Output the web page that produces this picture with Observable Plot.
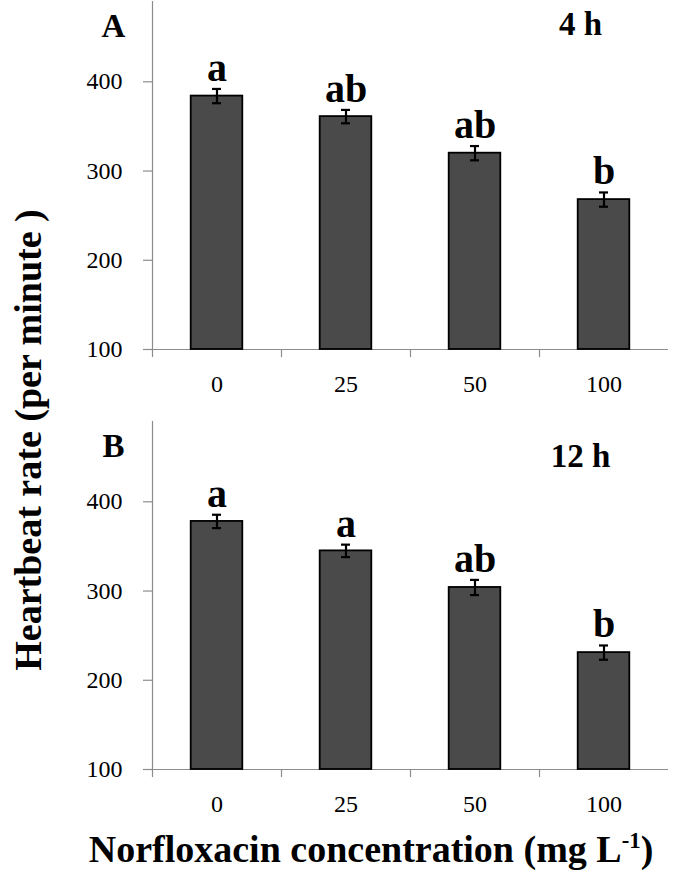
<!DOCTYPE html>
<html>
<head>
<meta charset="utf-8">
<script src="https://cdn.jsdelivr.net/npm/d3@7"></script>
<script src="https://cdn.jsdelivr.net/npm/@observablehq/plot@0.6"></script>
<style>
  html, body { margin: 0; padding: 0; background: #fff; }
  #chart { position: relative; width: 675px; height: 875px; font-family: "Liberation Serif", "Times New Roman", serif; color: #000; }
  #chart svg { position: absolute; left: 0; }
  .ttl { position: absolute; font-weight: bold; white-space: nowrap; }
</style>
</head>
<body>
<div id="chart"></div>
<script>
const categories = ["0", "25", "50", "100"];
const means4h = [384, 361, 320, 268];
const se4h = [8, 7.5, 8, 8];
const letters4h = ["a", "ab", "ab", "b"];
const means12h = [378, 345, 304, 231];
const se12h = [7.5, 7, 8.5, 8];
const letters12h = ["a", "a", "ab", "b"];
const yTicks = [100, 200, 300, 400];
const yDomain = [100, 490];
const panelLabels = ["A", "B"];
const timeLabels = ["4 h", "12 h"];
const xTitle = "Norfloxacin concentration (mg L";
const yTitle = "Heartbeat rate (per minute )";

const axisGrey = "#8c8c8c";

function panel(means, se, letters, label, time, timeDy) {
  const data = categories.map((c, i) => ({i, c, v: means[i], e: se[i], l: letters[i]}));
  const bounds = d3.range(categories.length).map(k => k - 0.5);
  return Plot.plot({
    width: 675,
    height: 399,
    marginTop: 1,
    marginBottom: 50,
    marginLeft: 152,
    marginRight: 7,
    x: {domain: [-0.5, categories.length - 0.5], axis: null},
    y: {domain: yDomain, axis: null},
    style: {fontFamily: "Liberation Serif, Times New Roman, serif", background: "transparent", overflow: "visible", color: "#000"},
    marks: [
      Plot.ruleY([yDomain[0]], {stroke: axisGrey, strokeWidth: 1.2}),
      Plot.ruleX([-0.5], {stroke: axisGrey, strokeWidth: 1.2}),
      Plot.axisX({ticks: bounds, tickSize: 8, tickFormat: () => "", label: null, stroke: axisGrey, strokeWidth: 1.2}),
      Plot.axisX({ticks: d3.range(categories.length), tickSize: 0, tickPadding: 25, tickFormat: i => categories[i], label: null, fontSize: 24, fill: "#000"}),
      Plot.axisY({ticks: yTicks, tickSize: 9, tickFormat: () => "", label: null, stroke: axisGrey, strokeWidth: 1.2}),
      Plot.text(yTicks, {x: -0.5, y: d => d, text: d => String(d), textAnchor: "end", dx: -30, fontSize: 24, fill: "#000"}),
      Plot.rectY(data, {x1: d => d.i - 0.2, x2: d => d.i + 0.2, y1: yDomain[0], y2: "v", fill: "#4a4a4a", stroke: "#000", strokeWidth: 1.8}),
      Plot.ruleX(data, {x: "i", y1: d => d.v - d.e, y2: d => d.v + d.e, stroke: "#000", strokeWidth: 2.2}),
      Plot.ruleY(data, {y: d => d.v - d.e, x1: d => d.i - 0.035, x2: d => d.i + 0.035, stroke: "#000", strokeWidth: 2.2}),
      Plot.ruleY(data, {y: d => d.v + d.e, x1: d => d.i - 0.035, x2: d => d.i + 0.035, stroke: "#000", strokeWidth: 2.2}),
      Plot.text(data, {x: "i", y: d => d.v + d.e, text: "l", dy: -8, lineAnchor: "bottom", fontSize: 40, fontWeight: "bold", fill: "#000"}),
      Plot.text([label], {frameAnchor: "top-left", dx: -39, dy: 35, lineAnchor: "bottom", textAnchor: "middle", fontSize: 33, fontWeight: "bold", fill: "#000"}),
      Plot.text([time], {frameAnchor: "top-right", dx: -88, dy: timeDy, lineAnchor: "bottom", textAnchor: "middle", fontSize: 33, fontWeight: "bold", fill: "#000"})
    ]
  });
}

const chart = document.getElementById("chart");
const a = panel(means4h, se4h, letters4h, panelLabels[0], timeLabels[0], 33);
a.style.top = "0px";
const b = panel(means12h, se12h, letters12h, panelLabels[1], timeLabels[1], 45);
b.style.top = "420px";
chart.appendChild(a);
chart.appendChild(b);

const yt = document.createElement("div");
yt.className = "ttl";
yt.textContent = yTitle;
yt.style.cssText = "left:28px; top:440px; font-size:38px; transform:translate(-50%,-50%) rotate(-90deg); line-height:1;";
chart.appendChild(yt);

const xt = document.createElement("div");
xt.className = "ttl";
xt.appendChild(document.createTextNode(xTitle));
const sup = document.createElement("sup");
sup.textContent = "-1";
sup.style.cssText = "font-size:0.6em; vertical-align:0.6em; line-height:0;";
xt.appendChild(sup);
xt.appendChild(document.createTextNode(")"));
xt.style.cssText = "left:371px; top:849px; font-size:38px; transform:translate(-50%,-50%); line-height:1;";
chart.appendChild(xt);
</script>
</body>
</html>
